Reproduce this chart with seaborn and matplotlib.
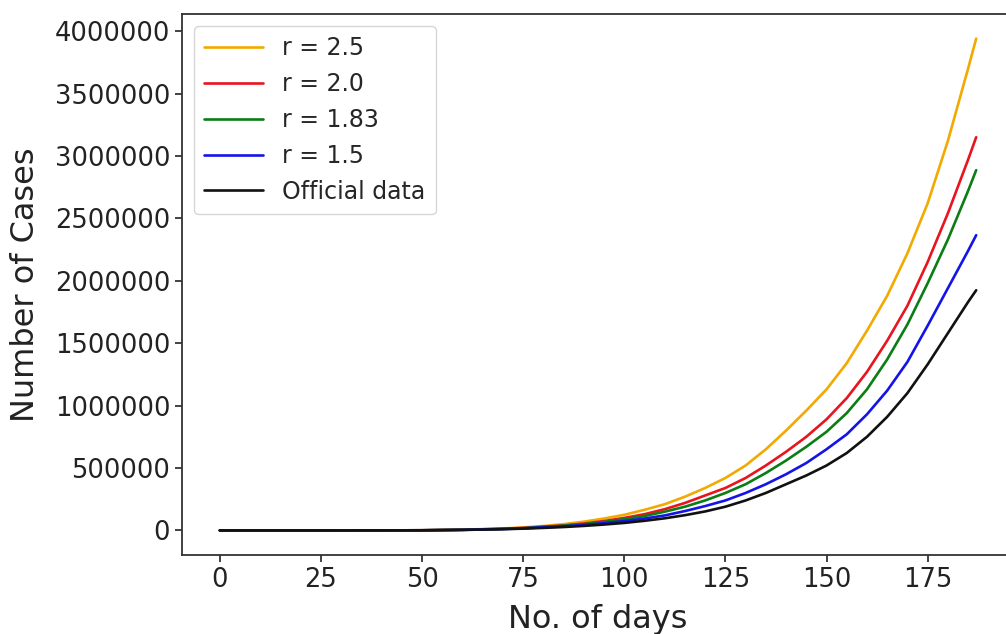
import matplotlib
matplotlib.use("Agg")
import matplotlib.pyplot as plt
import seaborn as sns
import pandas as pd

days = [0, 20, 40, 50, 60, 70, 75, 80, 85, 90, 95, 100, 105, 110, 115, 120, 125, 130,
        135, 140, 145, 150, 155, 160, 165, 170, 175, 180, 185, 187]
# values in millions of cases
r25 = [0, 0, 0.0003, 0.001, 0.006, 0.015, 0.024, 0.035, 0.05, 0.07, 0.095, 0.125, 0.165,
       0.21, 0.27, 0.34, 0.42, 0.52, 0.65, 0.80, 0.96, 1.13, 1.34, 1.60, 1.88, 2.22,
       2.62, 3.12, 3.70, 3.94]
r20 = [0, 0, 0.0003, 0.001, 0.005, 0.013, 0.02, 0.03, 0.04, 0.055, 0.075, 0.10, 0.13,
       0.17, 0.22, 0.28, 0.34, 0.42, 0.52, 0.63, 0.75, 0.89, 1.06, 1.27, 1.52, 1.80,
       2.15, 2.54, 2.97, 3.15]
r183 = [0, 0, 0.0003, 0.001, 0.005, 0.012, 0.018, 0.028, 0.038, 0.05, 0.068, 0.09, 0.115,
        0.15, 0.19, 0.24, 0.30, 0.37, 0.46, 0.56, 0.67, 0.79, 0.94, 1.13, 1.37, 1.65,
        1.98, 2.33, 2.72, 2.886]
r15 = [0, 0, 0.0002, 0.001, 0.004, 0.011, 0.016, 0.025, 0.033, 0.044, 0.058, 0.075, 0.095,
       0.12, 0.155, 0.195, 0.24, 0.30, 0.37, 0.45, 0.54, 0.65, 0.77, 0.93, 1.12, 1.35,
       1.64, 1.94, 2.24, 2.365]
official = [0, 0, 0.0002, 0.001, 0.004, 0.01, 0.014, 0.02, 0.027, 0.036, 0.047, 0.06, 0.077,
            0.097, 0.122, 0.152, 0.19, 0.24, 0.30, 0.37, 0.44, 0.52, 0.62, 0.75, 0.91,
            1.10, 1.33, 1.58, 1.83, 1.924]

labels = ["r = 2.5", "r = 2.0", "r = 1.83", "r = 1.5", "Official data"]
series = [r25, r20, r183, r15, official]
colors = ["#f2a900", "#e8141e", "#0a7d14", "#1414e6", "#111111"]

rows = []
for lab, vals in zip(labels, series):
    for d, v in zip(days, vals):
        rows.append({"day": d, "cases": v * 1e6, "series": lab})
df = pd.DataFrame(rows)

sns.set_style("ticks")
plt.rcParams["font.family"] = ["DejaVu Sans"]

fig = plt.figure(figsize=(10.06, 6.34), dpi=100)
ax = fig.add_axes([182 / 1006, (634 - 555) / 634, (1014 - 182) / 1006, (555 - 14) / 634])

sns.lineplot(data=df, x="day", y="cases", hue="series", hue_order=labels,
             palette=dict(zip(labels, colors)), linewidth=1.9, ax=ax)

ax.ticklabel_format(style="plain", axis="y")
ax.set_xticks([0, 25, 50, 75, 100, 125, 150, 175])
ax.set_yticks([0, 500000, 1000000, 1500000, 2000000, 2500000, 3000000, 3500000, 4000000])
ax.tick_params(axis="both", labelsize=18.5, length=5, width=1.2, colors="#222222")
ax.set_xlabel("No. of days", fontsize=23, color="#222222", labelpad=8)
ax.set_ylabel("Number of Cases", fontsize=23, color="#222222", labelpad=10)
for s in ax.spines.values():
    s.set_linewidth(1.3)
    s.set_color("#333333")

ax.legend(loc="upper left", fontsize=17, handlelength=2.5, title=None,
          frameon=True, framealpha=0.8, edgecolor="#cccccc", borderpad=0.45)

fig.savefig("out.png", dpi=100)
